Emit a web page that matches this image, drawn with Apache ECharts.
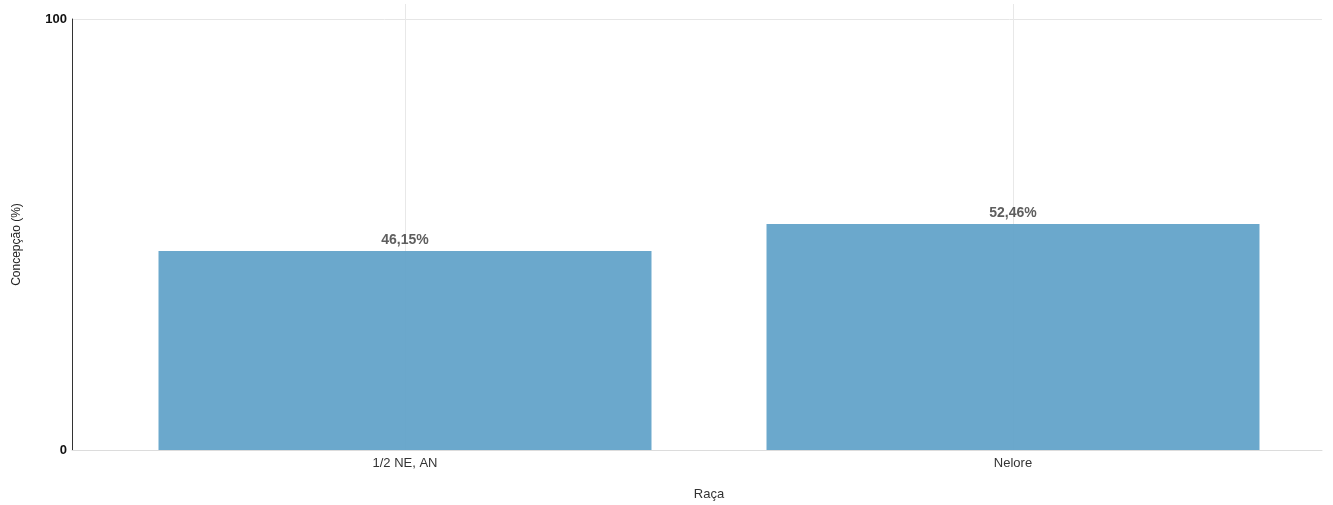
<!DOCTYPE html>
<html><head><meta charset="utf-8">
<script src="https://cdn.jsdelivr.net/npm/echarts@6/dist/echarts.min.js"></script>
<style>html,body{margin:0;padding:0;background:#fff}#c{width:1333px;height:505px}</style>
</head><body><div id="c"></div>
<script>
const categories = ["1/2 NE, AN", "Nelore"];
const values = [46.15, 52.46];
const yTicks = [0, 100];
const xTitle = "Raça";
const yTitle = "Concepção (%)";

const chart = echarts.init(document.getElementById('c'), null, {renderer: 'canvas'});
const narrow = '"Liberation Sans Narrow", "Arial Narrow", "Liberation Sans", Arial, sans-serif';
const gridBase = {outerBoundsMode: 'none', containLabel: false};
chart.setOption({
  animation: false,
  grid: [
    Object.assign({left: 72, right: 11, top: 19, bottom: 55}, gridBase),
    Object.assign({left: 101, right: 16, top: 19, bottom: 55}, gridBase),
    Object.assign({left: 101, right: 16, top: 4, bottom: 55}, gridBase)
  ],
  xAxis: [
    {gridIndex: 0, type: 'category', data: categories, axisLine: {lineStyle: {color: '#dcdcdc'}},
     axisTick: {show: false}, axisLabel: {show: false}, splitLine: {show: false}},
    {gridIndex: 1, type: 'category', data: categories, axisLine: {show: false}, axisTick: {show: false},
     axisLabel: {color: '#333', fontSize: 13, fontFamily: narrow, margin: 7},
     name: xTitle, nameLocation: 'middle', nameGap: 38,
     nameTextStyle: {color: '#333', fontSize: 13, fontFamily: '"Liberation Sans", Arial, sans-serif'}},
    {gridIndex: 2, type: 'category', data: categories, show: false}
  ],
  yAxis: [
    {gridIndex: 0, type: 'value', min: yTicks[0], max: yTicks[1], interval: 100,
     axisLine: {show: true, lineStyle: {color: '#333'}}, axisTick: {show: false},
     axisLabel: {color: '#111', fontWeight: 'bold', fontSize: 13, fontFamily: narrow, margin: 5},
     splitLine: {show: true, lineStyle: {color: '#e6e6e6'}},
     name: yTitle, nameLocation: 'middle', nameGap: 49, nameRotate: 90,
     nameTextStyle: {color: '#222', fontSize: 12, fontFamily: '"Liberation Sans", Arial, sans-serif',
       padding: [0, 20, 0, 0]}},
    {gridIndex: 1, type: 'value', min: 0, max: 100, show: false},
    {gridIndex: 2, type: 'value', min: 0, max: 100, show: false}
  ],
  series: [{
    type: 'line', xAxisIndex: 2, yAxisIndex: 2, data: [], silent: true, z: 0,
    markLine: {silent: true, symbol: 'none', label: {show: false}, z: 0,
      lineStyle: {color: '#e8e8e8', type: 'solid', width: 1},
      data: categories.map(c => ({xAxis: c}))}
  }, {
    type: 'bar', xAxisIndex: 1, yAxisIndex: 1, data: values, barWidth: 493, z: 3,
    itemStyle: {color: '#63a3c9', opacity: 0.95},
    label: {show: true, position: 'top', distance: 4, color: '#555', fontWeight: 'bold', fontSize: 14,
      fontFamily: narrow, formatter: p => p.value.toFixed(2).replace('.', ',') + '%'}
  }]
});
</script></body></html>
